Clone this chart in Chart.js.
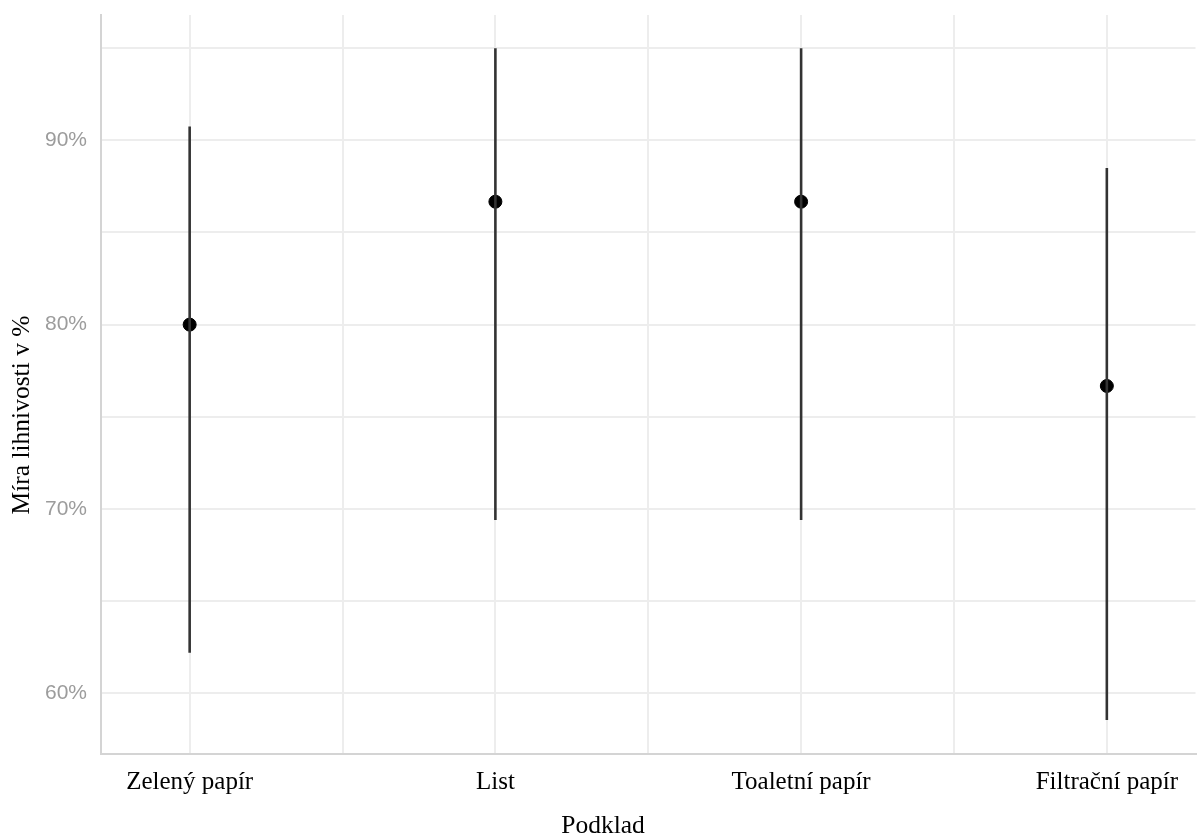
<!DOCTYPE html>
<html>
<head>
<meta charset="utf-8">
<script src="https://cdn.jsdelivr.net/npm/chart.js@4"></script>
<style>
  html, body { margin: 0; padding: 0; background: #fff; }
  #wrap { width: 1203px; height: 837px; }
</style>
</head>
<body>
<div id="wrap"><canvas id="chart"></canvas></div>
<script>
const categories = ['Zelený papír', 'List', 'Toaletní papír', 'Filtrační papír']
const means = [80, 86.67, 86.67, 76.67]
const lower = [62.2, 69.4, 69.4, 58.55]
const upper = [90.75, 95, 95, 88.5]

const serif = '"Liberation Serif", "Times New Roman", serif'

// one little line per category for the interval
let datasets = categories.map((c, i) => ({
  type: 'line',
  data: [{x: i, y: lower[i]}, {x: i, y: upper[i]}],
  borderColor: '#333',
  borderWidth: 2.6,
  pointRadius: 0,
  fill: false
}))

datasets.push({
  type: 'scatter',
  data: means.map((m, i) => ({x: i, y: m})),
  backgroundColor: '#000',
  borderColor: '#000',
  pointRadius: 6.5,
  pointHoverRadius: 6.5
})

// axis titles drawn by hand so they sit where the original has them
const axisTitles = {
  id: 'axisTitles',
  afterDraw(chart) {
    let ctx = chart.ctx
    ctx.save()
    ctx.fillStyle = '#000'
    ctx.font = '25.5px ' + serif
    ctx.textAlign = 'center'
    ctx.textBaseline = 'middle'
    ctx.fillText('Podklad', 603, 826)
    ctx.translate(22, 415)
    ctx.rotate(-Math.PI / 2)
    ctx.fillText('Míra lihnivosti v %', 0, 0)
    ctx.restore()
  }
}

let ctx = document.getElementById('chart').getContext('2d')

new Chart(ctx, {
  type: 'scatter',
  data: {datasets: datasets},
  options: {
    responsive: true,
    maintainAspectRatio: false,
    animation: false,
    layout: {padding: {top: 15, right: 6, left: 0, bottom: 0}},
    plugins: {
      legend: {display: false},
      tooltip: {enabled: false}
    },
    scales: {
      x: {
        type: 'linear',
        min: -0.29,
        max: 3.29,
        afterFit: s => { s.height = 83 },
        grid: {color: '#ededed', lineWidth: 2, drawTicks: false},
        border: {display: true, color: '#d4d4d4', width: 2},
        ticks: {
          stepSize: 0.5,
          includeBounds: false,
          autoSkip: false,
          maxRotation: 0,
          padding: 13,
          color: '#000',
          font: {family: serif, size: 25},
          callback: v => Number.isInteger(v) ? categories[v] : ''
        }
      },
      y: {
        min: 56.7,
        max: 96.8,
        afterFit: s => {
          s.width = 101
          s.paddingTop = 0
          s.paddingBottom = 0
        },
        grid: {color: '#ededed', lineWidth: 2, drawTicks: false},
        border: {display: true, color: '#d4d4d4', width: 2},
        ticks: {
          stepSize: 5,
          includeBounds: false,
          padding: 14,
          color: '#9c9c9c',
          font: {family: '"Liberation Sans", Arial, sans-serif', size: 21},
          callback: v => v % 10 === 0 ? v + '%' : ''
        }
      }
    }
  },
  plugins: [axisTitles]
})
</script>
</body>
</html>
